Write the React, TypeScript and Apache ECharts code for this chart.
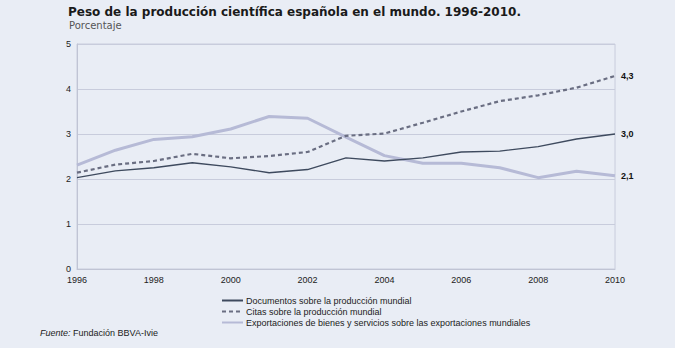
import React, { useEffect, useRef } from "react";
import * as echarts from "echarts";

const years = [1996, 1997, 1998, 1999, 2000, 2001, 2002, 2003, 2004, 2005, 2006, 2007, 2008, 2009, 2010];
const documentos = [2.03, 2.18, 2.25, 2.36, 2.27, 2.14, 2.21, 2.47, 2.40, 2.47, 2.60, 2.62, 2.72, 2.89, 3.0];
const citas = [2.14, 2.32, 2.40, 2.56, 2.46, 2.51, 2.60, 2.96, 3.01, 3.25, 3.50, 3.73, 3.86, 4.03, 4.29];
const exportaciones = [2.31, 2.64, 2.88, 2.94, 3.11, 3.39, 3.35, 2.93, 2.52, 2.35, 2.35, 2.25, 2.03, 2.17, 2.07];
const seriesNames = [
  "Documentos sobre la producción mundial",
  "Citas sobre la producción mundial",
  "Exportaciones de bienes y servicios sobre las exportaciones mundiales",
];
const title = "Peso de la producción científica española en el mundo. 1996-2010.";
const subtitle = "Porcentaje";

const pair = (arr: number[]) => years.map((y, i) => [y, arr[i]]);
const fmt = (p: any) => {
  const v = Array.isArray(p.value) ? p.value[1] : p.value;
  return Number(v).toFixed(1).replace(".", ",");
};

export default function App() {
  const ref = useRef<HTMLDivElement>(null);
  useEffect(() => {
    document.body.style.margin = "0";
    const chart = echarts.init(ref.current!, null, { renderer: "svg" });
    const endLabel = {
      show: true,
      formatter: fmt,
      fontFamily: "Liberation Sans",
      fontSize: 9,
      fontWeight: "bold" as const,
      color: "#111",
      distance: 6,
    };
    chart.setOption({
      animation: false,
      backgroundColor: "#e9edf5",
      title: [
        {
          text: title,
          left: 63,
          top: 1,
          textStyle: { fontFamily: "DejaVu Sans", fontSize: 12, fontWeight: "bold", color: "#1a1a1a" },
        },
        {
          text: subtitle,
          left: 64,
          top: 15,
          textStyle: { fontFamily: "DejaVu Sans", fontSize: 10, fontWeight: "normal", color: "#555" },
        },
      ],
      grid: {
        left: 77,
        right: 60,
        top: 44,
        bottom: 79,
        show: true,
        borderColor: "#c8ccdc",
        borderWidth: 1,
        backgroundColor: "transparent",
      },
      xAxis: {
        type: "value",
        min: 1996,
        max: 2010,
        interval: 2,
        axisLine: { show: true, lineStyle: { color: "#c0c4d4" } },
        axisTick: { show: false },
        splitLine: { show: false },
        axisLabel: {
          fontFamily: "Liberation Sans",
          fontSize: 9,
          color: "#222",
          margin: 6,
          formatter: (v: number) => String(v),
        },
      },
      yAxis: {
        type: "value",
        min: 0,
        max: 5,
        interval: 1,
        axisLine: { show: true, lineStyle: { color: "#c0c4d4" } },
        axisTick: { show: false },
        splitLine: { show: true, lineStyle: { color: "#c8ccdc", width: 1 } },
        axisLabel: { fontFamily: "Liberation Sans", fontSize: 9, color: "#222", margin: 6 },
      },
      legend: {
        orient: "vertical",
        left: 216,
        top: 291,
        itemGap: 2,
        itemWidth: 21,
        itemHeight: 10,
        itemStyle: { opacity: 0 },
        textStyle: { fontFamily: "Liberation Sans", fontSize: 9, color: "#222", padding: [0, 0, 0, -2] },
        data: seriesNames,
      },
      graphic: [
        {
          type: "text",
          left: 40,
          top: 328,
          style: {
            text: "{i|Fuente:} Fundación BBVA-Ivie",
            font: "9px 'Liberation Sans'",
            fill: "#222",
            rich: { i: { fontStyle: "italic", fontFamily: "Liberation Sans", fontSize: 9, fill: "#222" } },
          },
        },
      ],
      series: [
        {
          name: seriesNames[0],
          type: "line",
          data: pair(documentos),
          symbol: "none",
          lineStyle: { color: "#3e4a5e", width: 1.4 },
          itemStyle: { color: "#3e4a5e" },
          endLabel,
          z: 3,
        },
        {
          name: seriesNames[1],
          type: "line",
          data: pair(citas),
          symbol: "none",
          lineStyle: { color: "#6a6e82", width: 2.2, type: [4, 3] },
          itemStyle: { color: "#6a6e82" },
          endLabel,
          z: 2,
        },
        {
          name: seriesNames[2],
          type: "line",
          data: pair(exportaciones),
          symbol: "none",
          lineStyle: { color: "#b6bad6", width: 3 },
          itemStyle: { color: "#b6bad6" },
          endLabel,
          z: 1,
        },
      ],
    });
    return () => chart.dispose();
  }, []);
  return <div ref={ref} style={{ width: 675, height: 348 }} />;
}
